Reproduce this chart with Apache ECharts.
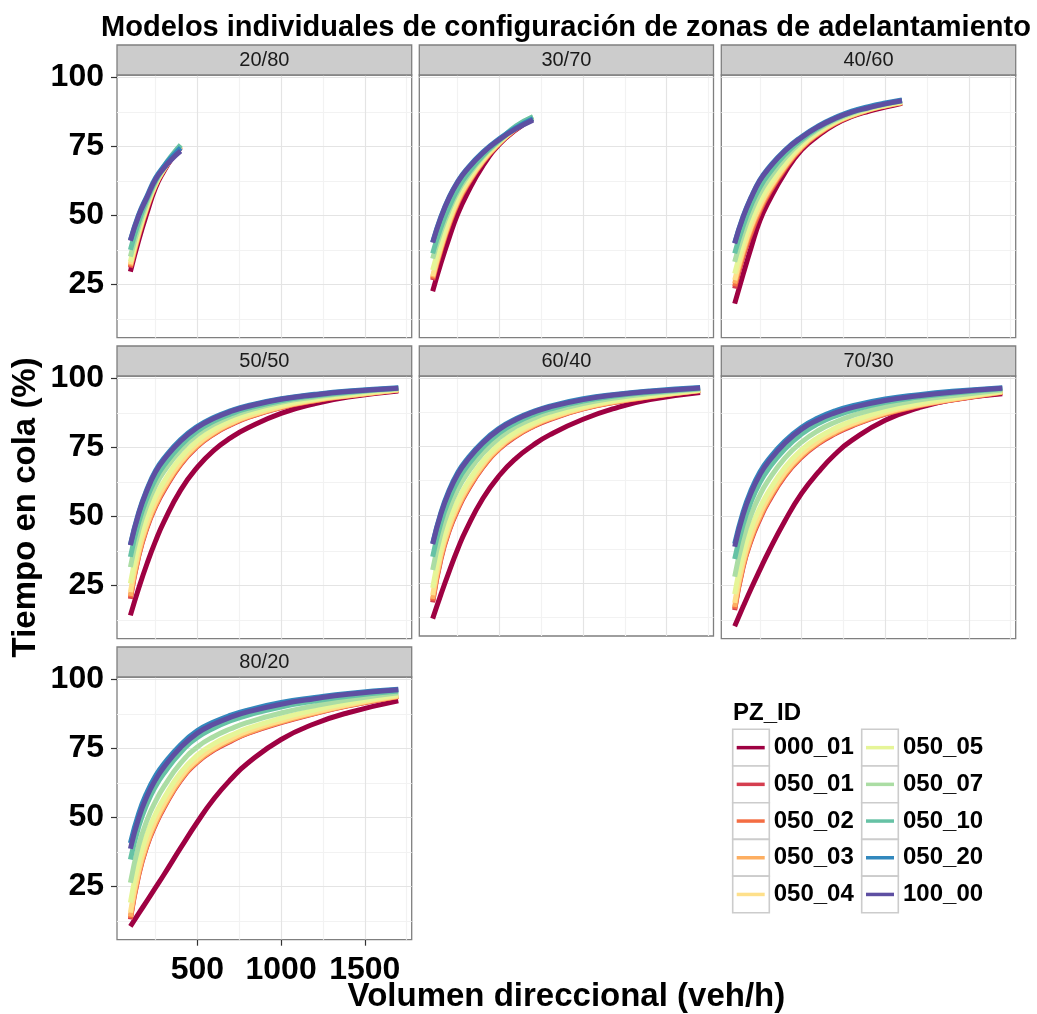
<!DOCTYPE html>
<html><head><meta charset="utf-8">
<script src="https://cdn.jsdelivr.net/npm/echarts@6/dist/echarts.min.js"></script>
<style>html,body{margin:0;padding:0;background:#fff}#chart{width:1037px;height:1014px}</style>
</head><body><div id="chart"></div>
<script>
// ---------------- data ----------------
const seriesNames = ['000_01','050_01','050_02','050_03','050_04','050_05','050_07','050_10','050_20','100_00'];
const panelLabels = ['20/80','30/70','40/60','50/50','60/40','70/30','80/20'];
const xTickValues = [500, 1000, 1500];
const yTickValues = [25, 50, 75, 100];
const xMinorValues = [250, 750, 1250, 1750];
const yMinorValues = [12.5, 37.5, 62.5, 87.5];

const volumes_20_80 = [100,150,200,250,300,350,400];
const tiempo_20_80 = [
  [29.6,41,51,60,66,70.8,74.5],
  [31,42.8,52.7,60.8,66.4,71,74.8],
  [31.3,43,52.9,61,66.5,71.1,75],
  [31.8,43.4,53.2,61.1,66.6,71.1,75],
  [32.3,43.8,53.5,61.3,66.7,71.2,75.1],
  [33.2,44.6,53.9,61.5,66.8,71.2,75.3],
  [35,46,54.8,62,67.1,71.5,75.5],
  [37.5,47.8,55.9,62.5,67.7,71.9,75.5],
  [41,50.3,57.1,63.5,67.8,71.3,74.5],
  [40.8,49.9,56.6,63,67.1,70.5,73.3]
];
const volumes_30_70 = [100,150,200,250,300,400,500,600,700];
const tiempo_30_70 = [
  [22.5,32.8,42.1,50.5,57.1,67.9,75.8,81.1,85],
  [26.5,37.4,46.7,54.3,60.1,69.2,76.1,81.3,85.3],
  [27,37.9,47.1,54.6,60.4,69.4,76.2,81.4,85.4],
  [27.5,38.3,47.5,55,60.7,69.6,76.3,81.5,85.5],
  [28,38.9,48.2,55.6,61.2,69.9,76.4,81.6,85.5],
  [30.1,40.8,49.7,57,62.3,70.6,76.7,81.8,85.6],
  [34.3,44.2,52.1,58.5,63.4,71.2,77,82.1,85.7],
  [36.2,45.8,53.3,59.5,64.3,71.7,77.3,82.4,85.7],
  [40.3,49.6,56.8,62.3,66.5,72.9,77.8,81.8,85],
  [40.1,49.3,56.5,62,66.2,72.6,77.5,81.4,84.5]
];
const volumes_40_60 = [100,150,200,250,300,400,500,600,700,800,900,1000,1100];
const tiempo_40_60 = [
  [18,28.5,38.6,48,54.6,65.4,73.7,78.9,83,85.8,87.7,89.2,90.6],
  [23.5,34.9,43.6,51.3,57.3,66.8,74.4,79.5,83.3,86,88.1,89.6,90.8],
  [24.3,35.6,44.2,51.8,57.7,67.1,74.5,79.6,83.4,86.1,88.1,89.6,90.8],
  [25.3,36.5,45.5,52.5,58.3,67.5,74.8,79.8,83.5,86.2,88.2,89.7,90.9],
  [26.5,37.5,46.4,53.3,59,68,75.1,80,83.7,86.3,88.3,89.8,91],
  [28.9,39.7,48.3,55,60.4,69,75.7,80.4,84,86.6,88.5,89.9,91.1],
  [33.1,43.4,51.5,58,62.9,70.7,76.8,81.2,84.5,87,88.8,90.2,91.4],
  [36.2,46.1,53.9,60.1,64.7,72,77.5,81.7,84.9,87.4,89.1,90.4,91.6],
  [40,49.5,56.8,62.8,67,73.6,78.5,82.4,85.4,87.8,89.4,90.7,91.8],
  [39.8,49.3,56.6,62.5,66.7,73.3,78.2,82.1,85.1,87.4,89,90.4,91.5]
];
const volumes_50_50 = [100,150,200,250,300,400,500,600,700,800,1000,1200,1400,1700];
const tiempo_50_50 = [
  [14.1,24,33,41,48,59.5,67.8,74,78.5,82,87.3,90.8,93.2,95.4],
  [20.1,35.6,46,53.5,59.3,68.7,75.3,79.9,83.2,85.8,89.4,91.9,93.6,95.8],
  [20.6,36,46.4,53.8,59.7,68.9,75.5,80,83.4,85.9,89.5,91.9,93.6,95.8],
  [21.2,36.5,46.8,54.2,60,69.2,75.7,80.2,83.5,86,89.6,92,93.7,95.8],
  [22.5,37.6,47.7,55.1,60.8,69.8,76.2,80.6,83.8,86.3,89.8,92.2,93.8,95.9],
  [25.7,40.1,50,57.2,62.6,71.3,77.4,81.6,84.7,87,90.3,92.5,94.1,96],
  [31.6,44.9,54.2,61.1,66.2,74,79.6,83.4,86.2,88.3,91.3,93.2,94.7,96.2],
  [35.3,47.9,56.8,63.5,68.4,75.7,80.9,84.5,87.1,89.1,91.9,93.7,95,96.4],
  [39.8,51.5,60,66.5,71,77.8,82.6,85.9,88.3,90.1,92.6,94.2,95.4,96.6],
  [39.5,51,59.5,66,70.5,77.3,82.2,85.5,88,89.8,92.4,94,95.2,96.4]
];
const volumes_60_40 = [100,150,200,250,300,400,500,600,700,800,1000,1200,1400,1700];
const tiempo_60_40 = [
  [12,21,29.5,37.5,44.5,56,64.5,70.8,75.5,79.3,85,89.2,92.2,94.8],
  [18,34,44.4,51.8,57.9,67.4,74.2,78.8,82.3,84.9,88.8,91.3,93.2,95.4],
  [18.6,34.5,44.8,52.2,58.3,67.6,74.4,79,82.4,85.1,88.9,91.4,93.2,95.5],
  [19.2,35,45.2,52.6,58.6,67.9,74.6,79.2,82.6,85.2,89,91.5,93.3,95.5],
  [20.6,36.1,46.2,53.5,59.4,68.5,75.1,79.6,83,85.5,89.2,91.7,93.4,95.6],
  [23.3,38.2,48,55.2,60.9,69.7,76,80.4,83.6,86.1,89.7,92,93.7,95.7],
  [29.8,43.3,52.5,59.3,64.5,72.5,78.3,82.4,85.3,87.6,90.8,92.9,94.4,96.1],
  [34.7,47.2,55.9,62.4,67.3,74.7,80.1,83.8,86.6,88.7,91.7,93.6,94.9,96.3],
  [39.6,51,59.3,65.5,70,76.8,81.8,85.3,87.8,89.8,92.5,94.2,95.4,96.6],
  [39.3,50.5,58.7,64.9,69.4,76.3,81.4,84.9,87.5,89.5,92.2,94,95.2,96.5]
];
const volumes_70_30 = [100,150,200,250,300,400,500,600,700,800,1000,1200,1400,1700];
const tiempo_70_30 = [
  [10.2,17.2,24,30.5,36.8,48.3,58.3,66,72.5,77.5,84.8,89.3,92.2,94.4],
  [16,31.5,41.5,48.9,55,64.6,71.4,76.3,79.9,82.7,87,90,92.1,94.9],
  [16.5,31.9,42,49.3,55.4,64.9,71.7,76.5,80.1,82.9,87.1,90.1,92.2,95],
  [17.2,32.5,42.5,49.8,55.8,65.3,72,76.8,80.3,83.1,87.3,90.2,92.3,95],
  [18.6,33.6,43.5,50.8,56.7,66,72.6,77.3,80.8,83.5,87.6,90.4,92.5,95.1],
  [21.8,36.3,46,53,58.7,67.7,74.1,78.6,81.9,84.5,88.3,91,92.9,95.3],
  [28.1,41.6,50.8,57.6,62.9,71.1,76.9,81.1,84.1,86.4,89.8,92.1,93.7,95.8],
  [34.5,46.9,55.6,62.1,67,74.4,79.8,83.6,86.3,88.3,91.3,93.2,94.6,96.2],
  [40,51.5,59.8,66,70.5,77.3,82.3,85.7,88.2,90,92.5,94.1,95.3,96.6],
  [39,50.5,58.8,65,69.6,76.5,81.6,85,87.5,89.4,92,93.7,95,96.4]
];
const volumes_80_20 = [100,150,200,250,300,400,500,600,700,800,1000,1200,1400,1700];
const tiempo_80_20 = [
  [10.5,15.2,19.8,24.5,29.2,38.9,48.3,56.8,63.8,69.6,78.2,83.9,87.9,92.2],
  [13,29.1,39.8,47.3,53.4,63.3,70,74.4,77.6,80.4,84.3,87.6,90.4,93.8],
  [13.5,29.6,40.1,47.7,53.7,63.6,70.2,74.6,77.8,80.5,84.5,87.7,90.5,93.8],
  [14,30,40.5,48,54,63.8,70.4,74.8,78,80.7,84.6,87.8,90.6,93.9],
  [15.5,31.2,41.5,49,54.9,64.5,71,75.3,78.5,81.2,85,88.1,90.8,94],
  [19.1,34.1,44.1,51.2,56.9,66.2,72.5,76.7,79.7,82.2,85.9,88.9,91.4,94.4],
  [26.3,39.9,49.1,55.8,61.1,69.6,75.5,79.3,82.1,84.4,87.8,90.4,92.6,95.1],
  [34.7,46.7,55,61.2,65.9,73.5,78.9,82.4,85,87,90,92.1,93.9,95.8],
  [40.7,51.5,59.2,65,69.4,76.3,81.4,84.6,87,88.8,91.6,93.4,94.9,96.4],
  [38.6,49.8,57.7,63.6,68.2,75.3,80.5,83.8,86.3,88.2,91,93,94.6,96.2]
];
const panelVolumes = [volumes_20_80, volumes_30_70, volumes_40_60, volumes_50_50, volumes_60_40, volumes_70_30, volumes_80_20];
const panelValues = [tiempo_20_80, tiempo_30_70, tiempo_40_60, tiempo_50_50, tiempo_60_40, tiempo_70_30, tiempo_80_20];

// ---------------- styles / layout ----------------
const seriesColors = ['#9E0142','#D53E4F','#F46D43','#FDAE61','#FEE08B','#E6F598','#ABDDA4','#66C2A5','#3288BD','#5E4FA2'];
const FONT = 'Liberation Sans, Arial, Helvetica, sans-serif';
const colLeft = [117, 419.3, 721.3];
const colWidth = [294.7, 294.2, 294.4];
const rowTop = [75, 376, 677];
const rowHeight = 262.7;
const X_MIN = 20, X_MAX = 1780, Y_MIN = 5.65, Y_MAX = 100.85;
const STRIP_H = 30;

const grids = [], xAxes = [], yAxes = [], series = [], titles = [], graphics = [];

titles.push({
  text: 'Modelos individuales de configuración de zonas de adelantamiento',
  left: 566, top: 13, textAlign: 'center', padding: 0,
  textStyle: {fontFamily: FONT, fontSize: 29, fontWeight: 'bold', color: '#000'}
});
titles.push({
  text: 'PZ_ID', left: 733, top: 701, padding: 0,
  textStyle: {fontFamily: FONT, fontSize: 24, fontWeight: 'bold', color: '#000'}
});

panelLabels.forEach((lab, i) => {
  const r = Math.floor(i / 3), c = i % 3;
  const left = colLeft[c], top = rowTop[r], w = colWidth[c];
  grids.push({left: left, top: top, width: w, height: rowHeight, show: true,
    backgroundColor: '#fff', borderColor: '#7f7f7f', borderWidth: 1.3, containLabel: false});
  graphics.push({type: 'rect', shape: {x: left, y: top - STRIP_H, width: w, height: STRIP_H},
    style: {fill: '#cccccc', stroke: '#7f7f7f', lineWidth: 1.3}, z: 1});
  titles.push({text: lab, left: left + w / 2, top: top - STRIP_H / 2 - 10, textAlign: 'center', padding: 0,
    textStyle: {fontFamily: FONT, fontSize: 20, fontWeight: 'normal', color: '#1a1a1a'}});

  const showX = (i === 6), showY = (c === 0);
  const xa = {
    gridIndex: i, type: 'value', min: X_MIN, max: X_MAX,
    axisLine: {show: false}, splitLine: {show: false},
    axisTick: {show: showX, customValues: xTickValues, length: 6, lineStyle: {color: '#333', width: 1.2}},
    axisLabel: {show: showX, customValues: xTickValues, margin: 14, fontFamily: FONT, fontSize: 32, fontWeight: 'bold', color: '#000',
      formatter: v => String(v)}
  };
  if (i === 4) {
    xa.name = 'Volumen direccional (veh/h)';
    xa.nameLocation = 'middle';
    xa.nameGap = 344;
    xa.nameTextStyle = {fontFamily: FONT, fontSize: 33, fontWeight: 'bold', color: '#000'};
  }
  xAxes.push(xa);
  const ya = {
    gridIndex: i, type: 'value', min: Y_MIN, max: Y_MAX,
    axisLine: {show: false}, splitLine: {show: false},
    axisTick: {show: showY, customValues: yTickValues, length: 6, lineStyle: {color: '#333', width: 1.2}},
    axisLabel: {show: showY, customValues: yTickValues, margin: 13, fontFamily: FONT, fontSize: 32, fontWeight: 'bold', color: '#000',
      formatter: v => String(v)}
  };
  if (i === 3) {
    ya.name = 'Tiempo en cola (%)';
    ya.nameLocation = 'middle';
    ya.nameRotate = 90;
    ya.nameGap = 75;
    ya.nameTextStyle = {fontFamily: FONT, fontSize: 33, fontWeight: 'bold', color: '#000'};
  }
  yAxes.push(ya);

  const gl = [];
  xMinorValues.forEach(v => gl.push({xAxis: v, lineStyle: {color: '#f2f2f2', width: 1.2, type: 'solid'}}));
  yMinorValues.forEach(v => gl.push({yAxis: v, lineStyle: {color: '#f2f2f2', width: 1.2, type: 'solid'}}));
  xTickValues.forEach(v => gl.push({xAxis: v, lineStyle: {color: '#e4e4e4', width: 1.2, type: 'solid'}}));
  yTickValues.forEach(v => gl.push({yAxis: v, lineStyle: {color: '#e4e4e4', width: 1.2, type: 'solid'}}));
  series.push({
    type: 'line', name: 'grid' + i, xAxisIndex: i, yAxisIndex: i, data: [], silent: true, z: 0,
    markLine: {silent: true, symbol: ['none', 'none'], label: {show: false}, animation: false, z: 0, data: gl}
  });

  const xs = panelVolumes[i];
  panelValues[i].forEach((vals, s) => {
    series.push({
      type: 'line', name: seriesNames[s], xAxisIndex: i, yAxisIndex: i,
      data: xs.map((x, k) => [x, vals[k]]),
      smooth: 0.5, showSymbol: false, symbol: 'none', z: 2, silent: true,
      itemStyle: {color: seriesColors[s]},
      lineStyle: {color: seriesColors[s], width: 5, cap: 'butt', join: 'round'},
      emphasis: {disabled: true}
    });
  });
});

for (let c = 0; c < 2; c++) {
  for (let r = 0; r < 5; r++) {
    graphics.push({type: 'rect', shape: {x: [732.7, 861.7][c], y: 729.3 + r * 36.7, width: 36.6, height: 36.7},
      style: {fill: '#fff', stroke: '#cccccc', lineWidth: 1.6}, z: 0});
  }
}

const legendCommon = {
  orient: 'vertical', top: 729.3, padding: 0, itemGap: 0, itemWidth: 28, itemHeight: 3.5,
  icon: 'rect', selectedMode: false,
  textStyle: {fontFamily: FONT, fontSize: 24, fontWeight: 'bold', color: '#000', lineHeight: 36.7, padding: [0, 0, 0, 4]}
};

const chart = echarts.init(document.getElementById('chart'));
chart.setOption({
  backgroundColor: '#fff',
  animation: false,
  title: titles,
  legend: [
    Object.assign({}, legendCommon, {left: 736.7, data: seriesNames.slice(0, 5)}),
    Object.assign({}, legendCommon, {left: 866, data: seriesNames.slice(5)})
  ],
  grid: grids,
  xAxis: xAxes,
  yAxis: yAxes,
  graphic: graphics,
  series: series
});
</script>
</body></html>
